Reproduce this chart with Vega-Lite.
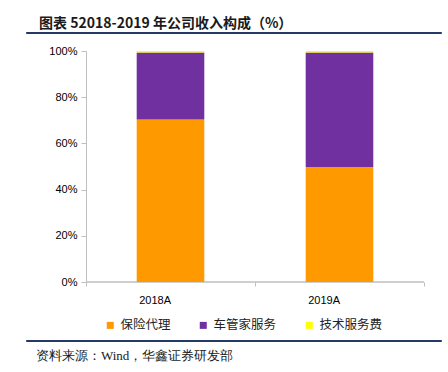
{
  "$schema": "https://vega.github.io/schema/vega-lite/v6.json",
  "padding": {"left": 25, "top": 16, "right": 8, "bottom": 6},
  "background": "white",
  "spacing": 2,
  "config": {"view": {"stroke": null}},
  "resolve": {"scale": {"color": "independent"}, "legend": {"color": "independent"}},
  "datasets": {
    "rows": [
      {"cat": "2018A", "series": "保险代理", "idx": 1, "value": 0.704},
      {"cat": "2018A", "series": "车管家服务", "idx": 2, "value": 0.290},
      {"cat": "2018A", "series": "技术服务费", "idx": 3, "value": 0.006},
      {"cat": "2019A", "series": "保险代理", "idx": 1, "value": 0.498},
      {"cat": "2019A", "series": "车管家服务", "idx": 2, "value": 0.496},
      {"cat": "2019A", "series": "技术服务费", "idx": 3, "value": 0.006}
    ]
  },
  "vconcat": [
    {
      "width": 415,
      "height": 1,
      "view": {"stroke": "#243a66", "strokeWidth": 1, "fill": "#243a66"},
      "title": {
        "text": "图表 52018-2019 年公司收入构成（%）",
        "anchor": "start",
        "dx": 13,
        "offset": -4,
        "font": "Noto Sans CJK SC",
        "fontSize": 14,
        "fontWeight": "bold",
        "color": "#1a1a1a"
      },
      "data": {"values": [{}]},
      "mark": {"type": "text"},
      "encoding": {"text": {"value": ""}}
    },
    {
      "width": 398,
      "height": 231,
      "title": {"text": " ", "fontSize": 5, "offset": 0},
      "data": {"name": "rows"},
      "layer": [
        {
          "transform": [{"filter": "datum.series === '保险代理'"}],
          "mark": {"type": "bar", "width": {"band": 1}, "fill": null, "stroke": "#bfbfbf", "strokeWidth": 1},
          "encoding": {
            "x": {"field": "cat", "type": "nominal"},
            "y": {"datum": 0},
            "y2": {"datum": 0}
          }
        },
        {
          "mark": {"type": "bar", "width": {"band": 0.4}},
          "encoding": {
            "x": {
              "field": "cat",
              "type": "nominal",
              "scale": {"paddingInner": 0, "paddingOuter": 0.1775, "align": 1},
              "axis": {
                "title": null,
                "labelAngle": 0,
                "domain": false,
                "tickBand": "extent",
                "tickColor": "#bfbfbf",
                "tickSize": 4,
                "labelFont": "Liberation Sans",
                "labelFontSize": 11,
                "labelColor": "#000000",
                "labelPadding": 14
              }
            },
            "y": {
              "field": "value",
              "type": "quantitative",
              "stack": "zero",
              "scale": {"domain": [0, 1]},
              "axis": {
                "title": null,
                "offset": -60,
                "format": ".0%",
                "tickCount": 5,
                "grid": false,
                "domainColor": "#bfbfbf",
                "tickColor": "#bfbfbf",
                "tickSize": 5,
                "labelPadding": 4,
                "labelFont": "Liberation Sans",
                "labelFontSize": 11,
                "labelColor": "#000000"
              }
            },
            "order": {"field": "idx", "type": "quantitative"},
            "color": {
              "field": "series",
              "type": "nominal",
              "scale": {
                "domain": ["保险代理", "车管家服务", "技术服务费"],
                "range": ["#ff9900", "#7030a0", "#ffff00"]
              },
              "legend": {
                "title": null,
                "orient": "none",
                "legendX": 78,
                "legendY": 268,
                "direction": "horizontal",
                "symbolType": "square",
                "symbolSize": 49,
                "symbolStrokeWidth": 0,
                "labelFont": "Noto Sans CJK SC",
                "labelFontSize": 12.5,
                "labelOffset": 4,
                "labelColor": "#222222",
                "columnPadding": 26
              }
            }
          }
        }
      ]
    },
    {
      "width": 415,
      "height": 1,
      "view": {"stroke": "#243a66", "strokeWidth": 1, "fill": "#243a66"},
      "title": {
        "text": "资料来源：Wind，华鑫证券研发部",
        "orient": "bottom",
        "anchor": "start",
        "dx": 10,
        "offset": 4,
        "font": "Liberation Serif",
        "fontSize": 13,
        "fontWeight": "normal",
        "color": "#1a1a1a"
      },
      "data": {"values": [{}]},
      "mark": {"type": "text"},
      "encoding": {"text": {"value": ""}}
    }
  ]
}
